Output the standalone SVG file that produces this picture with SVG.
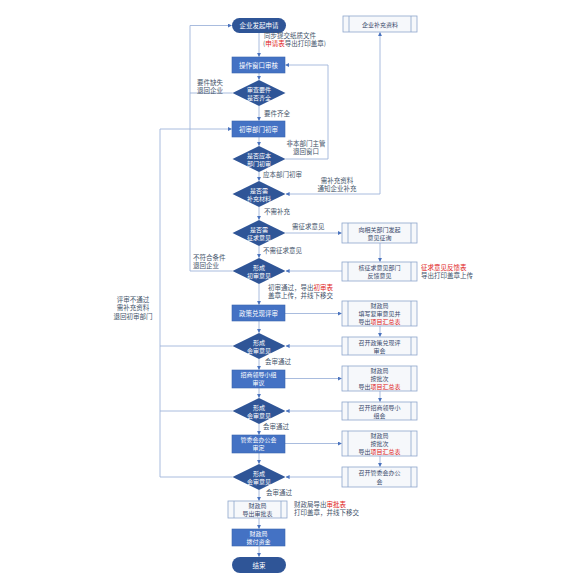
<svg xmlns="http://www.w3.org/2000/svg" width="570" height="581" viewBox="0 0 570 581">
<defs>
<marker id="ah" viewBox="0 0 10 10" refX="9" refY="5" markerWidth="4" markerHeight="4" orient="auto-start-reverse" markerUnits="userSpaceOnUse">
<path d="M0,0 L10,5 L0,10 z" fill="#4A73BE"/>
</marker>
<style>
text{font-family:"Noto Sans CJK SC","Noto Sans",sans-serif;font-size:6.5px;}
.proc{fill:#4472C4;stroke:#3A64B0;stroke-width:0.6;}
.term{fill:#2F5597;}
.dec{fill:#2F5597;}
.wt{fill:#ffffff;text-anchor:middle;}
.sm{font-size:6px;}
.pre{fill:#F6F8FB;stroke:#8EA5CC;stroke-width:0.8;}
.preline{stroke:#8EA5CC;stroke-width:0.8;}
.pt{fill:#3A4A6B;text-anchor:middle;font-size:6px;}
.lb{fill:#44546A;}
.red{fill:#E02020;}
.ln{fill:none;stroke:#9FB4DA;stroke-width:0.9;}
.arr{marker-end:url(#ah);}
</style>
</defs>
<rect width="570" height="581" fill="#ffffff"/>

<g id="connectors">
<path class="ln arr" d="M259,33 V56.5"/>
<path class="ln arr" d="M259,73 V79.5"/>
<path class="ln arr" d="M259,106 V120.5"/>
<path class="ln arr" d="M259,137 V145.5"/>
<path class="ln arr" d="M259,172 V180.5"/>
<path class="ln arr" d="M259,207 V219.5"/>
<path class="ln arr" d="M259,246 V257.5"/>
<path class="ln arr" d="M259,284 V304.5"/>
<path class="ln arr" d="M259,321 V332.5"/>
<path class="ln arr" d="M259,359 V369.5"/>
<path class="ln arr" d="M259,388 V397.5"/>
<path class="ln arr" d="M259,424 V434.5"/>
<path class="ln arr" d="M259,453 V463.5"/>
<path class="ln arr" d="M259,490 V500.5"/>
<path class="ln arr" d="M259,518 V528.5"/>
<path class="ln arr" d="M259,546 V556.5"/>
<path class="ln arr" d="M232.5,93 H190 V25.5 H231.5"/>
<path class="ln" d="M232.5,271 H190 V93"/>
<path class="ln arr" d="M285.5,159 H328 V65 H285.5"/>
<path class="ln arr" style="marker-start:url(#ah)" d="M286,194 H380 V32.5"/>
<path class="ln arr" d="M285.5,233 H341.5"/>
<path class="ln arr" d="M380,243 V261.5"/>
<path class="ln arr" d="M342,271 H286"/>
<path class="ln arr" d="M285,313.5 H341.5"/>
<path class="ln arr" d="M380,326 V336.5"/>
<path class="ln arr" d="M342,346 H286"/>
<path class="ln arr" d="M285,378.5 H341.5"/>
<path class="ln arr" d="M380,391 V401.5"/>
<path class="ln arr" d="M342,411 H286"/>
<path class="ln arr" d="M285,443.5 H341.5"/>
<path class="ln arr" d="M380,456 V466.5"/>
<path class="ln arr" d="M342,477 H286"/>
<path class="ln" d="M232.5,346 H160"/>
<path class="ln" d="M232.5,411 H160"/>
<path class="ln arr" d="M232.5,477 H160 V129 H231.5"/>
</g>

<g id="n-start"><rect class="term" x="232" y="18" width="54" height="15" rx="7.5"/><text class="wt" x="259" y="28">企业发起申请</text></g>
<g id="n-window"><rect class="proc" x="232" y="57" width="53" height="16"/><text class="wt" x="258.5" y="67.5">操作窗口审核</text></g>
<g id="n-d1"><polygon class="dec" points="232.5,93 259,80 285.5,93 259,106"/><text class="wt sm" x="259" y="92">审查要件</text><text class="wt sm" x="259" y="100">是否齐全</text></g>
<g id="n-first"><rect class="proc" x="232" y="121" width="53" height="16"/><text class="wt" x="258.5" y="131.5">初审部门初审</text></g>
<g id="n-d2"><polygon class="dec" points="232.5,159 259,146 285.5,159 259,172"/><text class="wt sm" x="259" y="158">是否应本</text><text class="wt sm" x="259" y="166">部门初审</text></g>
<g id="n-d3"><polygon class="dec" points="232.5,194 259,181 285.5,194 259,207"/><text class="wt sm" x="259" y="193">是否需</text><text class="wt sm" x="259" y="201">补充材料</text></g>
<g id="n-d4"><polygon class="dec" points="232.5,233 259,220 285.5,233 259,246"/><text class="wt sm" x="259" y="232">是否需</text><text class="wt sm" x="259" y="240">征求意见</text></g>
<g id="n-d5"><polygon class="dec" points="232.5,271 259,258 285.5,271 259,284"/><text class="wt sm" x="259" y="270">形成</text><text class="wt sm" x="259" y="278">初审意见</text></g>
<g id="n-policy"><rect class="proc" x="232" y="305" width="53" height="16"/><text class="wt" x="258.5" y="315.5">政策兑现评审</text></g>
<g id="n-d6"><polygon class="dec" points="232.5,346 259,333 285.5,346 259,359"/><text class="wt sm" x="259" y="345">形成</text><text class="wt sm" x="259" y="353">会审意见</text></g>
<g id="n-lead"><rect class="proc" x="232" y="370" width="53" height="18"/><text class="wt sm" x="258.5" y="377">招商领导小组</text><text class="wt sm" x="258.5" y="385">审议</text></g>
<g id="n-d7"><polygon class="dec" points="232.5,411 259,398 285.5,411 259,424"/><text class="wt sm" x="259" y="410">形成</text><text class="wt sm" x="259" y="418">会审意见</text></g>
<g id="n-mgmt"><rect class="proc" x="232" y="435" width="53" height="18"/><text class="wt sm" x="258.5" y="442">管委会办公会</text><text class="wt sm" x="258.5" y="450">审定</text></g>
<g id="n-d8"><polygon class="dec" points="232.5,477 259,464 285.5,477 259,490"/><text class="wt sm" x="259" y="476">形成</text><text class="wt sm" x="259" y="484">会审意见</text></g>
<g id="n-approve"><rect class="pre" x="228" y="501" width="59" height="17"/><line class="preline" x1="234" y1="501" x2="234" y2="518"/><line class="preline" x1="281" y1="501" x2="281" y2="518"/><text class="pt" x="257.5" y="508">财政局</text><text class="pt" x="257.5" y="516">导出审批表</text></g>
<g id="n-pay"><rect class="proc" x="232" y="529" width="53" height="17"/><text class="wt sm" x="258.5" y="536">财政局</text><text class="wt sm" x="258.5" y="544">拨付资金</text></g>
<g id="n-end"><rect class="term" x="232" y="557" width="54" height="16" rx="8"/><text class="wt" x="259" y="567.5">结束</text></g>

<g id="n-supply"><rect class="pre" x="343" y="16" width="74" height="16"/><line class="preline" x1="349" y1="16" x2="349" y2="32"/><line class="preline" x1="411" y1="16" x2="411" y2="32"/><text class="pt" x="380" y="26.5">企业补充资料</text></g>
<g id="n-consult"><rect class="pre" x="342" y="223" width="75" height="20"/><line class="preline" x1="348" y1="223" x2="348" y2="243"/><line class="preline" x1="411" y1="223" x2="411" y2="243"/><text class="pt" x="379.5" y="231.5">向相关部门发起</text><text class="pt" x="379.5" y="239.5">意见征询</text></g>
<g id="n-feedback"><rect class="pre" x="342" y="262" width="75" height="19"/><line class="preline" x1="348" y1="262" x2="348" y2="281"/><line class="preline" x1="411" y1="262" x2="411" y2="281"/><text class="pt" x="379.5" y="270">核征求意见部门</text><text class="pt" x="379.5" y="278">反馈意见</text></g>
<g id="n-r4"><rect class="pre" x="342" y="301" width="75" height="25"/><line class="preline" x1="348" y1="301" x2="348" y2="326"/><line class="preline" x1="411" y1="301" x2="411" y2="326"/><text class="pt" x="379.5" y="308">财政局</text><text class="pt" x="379.5" y="316">填写复审意见并</text><text class="pt" x="379.5" y="324">导出<tspan class="red">项目汇总表</tspan></text></g>
<g id="n-r5"><rect class="pre" x="342" y="337" width="75" height="18"/><line class="preline" x1="348" y1="337" x2="348" y2="355"/><line class="preline" x1="411" y1="337" x2="411" y2="355"/><text class="pt" x="379.5" y="344.5">召开政策兑现评</text><text class="pt" x="379.5" y="352.5">审会</text></g>
<g id="n-r6"><rect class="pre" x="342" y="366" width="75" height="25"/><line class="preline" x1="348" y1="366" x2="348" y2="391"/><line class="preline" x1="411" y1="366" x2="411" y2="391"/><text class="pt" x="379.5" y="373">财政局</text><text class="pt" x="379.5" y="381">按批次</text><text class="pt" x="379.5" y="389">导出<tspan class="red">项目汇总表</tspan></text></g>
<g id="n-r7"><rect class="pre" x="342" y="402" width="75" height="18"/><line class="preline" x1="348" y1="402" x2="348" y2="420"/><line class="preline" x1="411" y1="402" x2="411" y2="420"/><text class="pt" x="379.5" y="409.5">召开招商领导小</text><text class="pt" x="379.5" y="417.5">组会</text></g>
<g id="n-r8"><rect class="pre" x="342" y="431" width="75" height="25"/><line class="preline" x1="348" y1="431" x2="348" y2="456"/><line class="preline" x1="411" y1="431" x2="411" y2="456"/><text class="pt" x="379.5" y="438">财政局</text><text class="pt" x="379.5" y="446">按批次</text><text class="pt" x="379.5" y="454">导出<tspan class="red">项目汇总表</tspan></text></g>
<g id="n-r9"><rect class="pre" x="342" y="467" width="75" height="20"/><line class="preline" x1="348" y1="467" x2="348" y2="487"/><line class="preline" x1="411" y1="467" x2="411" y2="487"/><text class="pt" x="379.5" y="475">召开管委会办公</text><text class="pt" x="379.5" y="483.5">会</text></g>

<g id="labels">
<text class="lb" x="264" y="37.5">同步提交纸质文件</text>
<text class="lb" x="263" y="46">(<tspan class="red">申请表</tspan>导出打印盖章)</text>
<text class="lb" x="197" y="84.5">要件缺失</text>
<text class="lb" x="197" y="93">退回企业</text>
<text class="lb" x="264" y="116">要件齐全</text>
<text class="lb" x="306" y="145.5" text-anchor="middle">非本部门主管</text>
<text class="lb" x="306" y="154" text-anchor="middle">退回窗口</text>
<text class="lb" x="263" y="177">应本部门初审</text>
<text class="lb" x="337" y="182.5" text-anchor="middle">需补充资料</text>
<text class="lb" x="337" y="191" text-anchor="middle">通知企业补充</text>
<text class="lb" x="264" y="214">不需补充</text>
<text class="lb" x="292" y="229">需征求意见</text>
<text class="lb" x="263" y="253">不需征求意见</text>
<text class="lb" x="193" y="259.5">不符合条件</text>
<text class="lb" x="193" y="268">退回企业</text>
<text class="red" x="421" y="269.5">征求意见反馈表</text>
<text class="lb" x="421" y="278">导出打印盖章上传</text>
<text class="lb" x="268" y="289.5">初审通过，导出<tspan class="red">初审表</tspan></text>
<text class="lb" x="268" y="298">盖章上传，并线下移交</text>
<text class="lb" x="133" y="301.5" text-anchor="middle">评审不通过</text>
<text class="lb" x="133" y="310" text-anchor="middle">需补充资料</text>
<text class="lb" x="133" y="318.5" text-anchor="middle">退回初审部门</text>
<text class="lb" x="265" y="364">会审通过</text>
<text class="lb" x="263" y="429">会审通过</text>
<text class="lb" x="266" y="495">会审通过</text>
<text class="lb" x="294" y="506.5">财政局导出<tspan class="red">审批表</tspan></text>
<text class="lb" x="294" y="515">打印盖章，并线下移交</text>
</g>
</svg>
